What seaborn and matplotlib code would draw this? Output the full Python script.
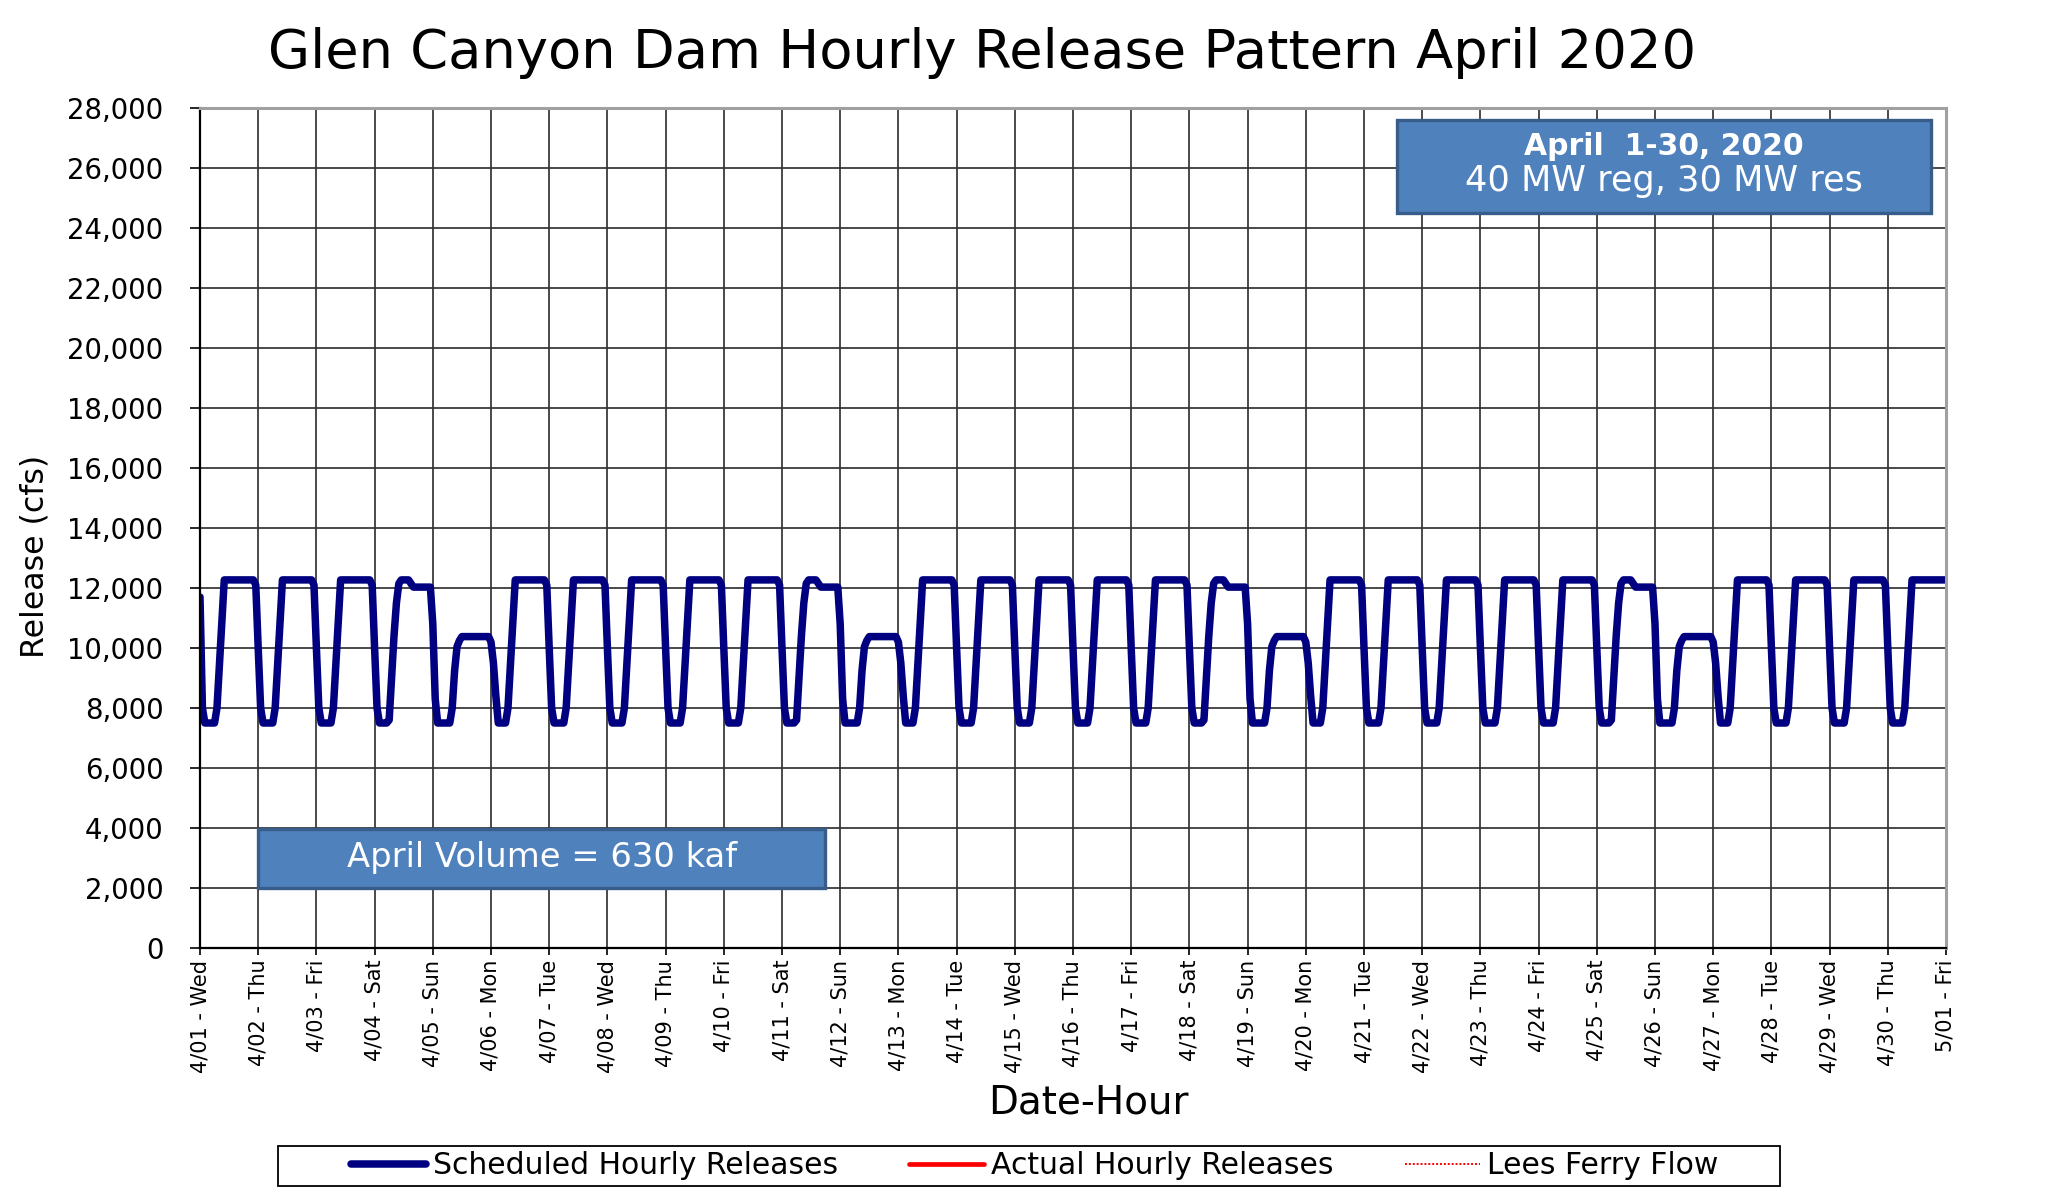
import numpy as np
import pandas as pd
import matplotlib
matplotlib.use("Agg")
import matplotlib.pyplot as plt
import seaborn as sns
from matplotlib.patches import Rectangle
from matplotlib.ticker import FuncFormatter

# ---------------- data ----------------
title = "Glen Canyon Dam Hourly Release Pattern April 2020"
x_label = "Date-Hour"
y_label = "Release (cfs)"

day_labels = ["4/01 - Wed", "4/02 - Thu", "4/03 - Fri", "4/04 - Sat", "4/05 - Sun",
              "4/06 - Mon", "4/07 - Tue", "4/08 - Wed", "4/09 - Thu", "4/10 - Fri",
              "4/11 - Sat", "4/12 - Sun", "4/13 - Mon", "4/14 - Tue", "4/15 - Wed",
              "4/16 - Thu", "4/17 - Fri", "4/18 - Sat", "4/19 - Sun", "4/20 - Mon",
              "4/21 - Tue", "4/22 - Wed", "4/23 - Thu", "4/24 - Fri", "4/25 - Sat",
              "4/26 - Sun", "4/27 - Mon", "4/28 - Tue", "4/29 - Wed", "4/30 - Thu",
              "5/01 - Fri"]

# day type of each of the 30 April days
day_types = ["wkd", "wkd", "wkd", "sat", "sun", "mon", "wkd",
             "wkd", "wkd", "wkd", "sat", "sun", "mon", "wkd",
             "wkd", "wkd", "wkd", "sat", "sun", "mon", "wkd",
             "wkd", "wkd", "wkd", "sat", "sun", "mon", "wkd",
             "wkd", "wkd"]

# scheduled hourly releases (cfs), hours 0..23
weekday_hours = [10000, 8000, 7500, 7500, 7500, 7500, 7500, 8000, 9450, 10850,
                 12270, 12270, 12270, 12270, 12270, 12270, 12270, 12270, 12270, 12270,
                 12270, 12270, 12270, 12100]
saturday_hours = [10000, 8000, 7500, 7500, 7500, 7500, 7600, 9000, 10400, 11500,
                  12150, 12270, 12270, 12270, 12270, 12150, 12030, 12030, 12030, 12030,
                  12030, 12030, 12030, 12030]
sunday_hours = [10800, 8300, 7500, 7500, 7500, 7500, 7500, 7500, 8000, 9250,
                10050, 10250, 10380, 10380, 10380, 10380, 10380, 10380, 10380, 10380,
                10380, 10380, 10380, 10380]
monday_hours = [10200, 9500, 8400, 7500, 7500, 7500, 7500, 8000, 9450, 10850,
                12270, 12270, 12270, 12270, 12270, 12270, 12270, 12270, 12270, 12270,
                12270, 12270, 12270, 12100]
first_hour_value = 11700          # 4/01 hour 0
last_day_hour23_value = 12270     # 4/30 hour 23
month_end_value = 12270           # 5/01 hour 0

actual_hourly_releases = []       # no actual data drawn in the reference
lees_ferry_flow = []

y_ticks = [0, 2000, 4000, 6000, 8000, 10000, 12000, 14000, 16000, 18000,
           20000, 22000, 24000, 26000, 28000]

box1_line1 = "April  1-30, 2020"
box1_line2 = "40 MW reg, 30 MW res"
box2_text = "April Volume = 630 kaf"

# ---------------- assemble series ----------------
patterns = {"wkd": weekday_hours, "sat": saturday_hours,
            "sun": sunday_hours, "mon": monday_hours}
values = []
for t in day_types:
    values.extend(patterns[t])
values[0] = first_hour_value
values[-1] = last_day_hour23_value
values.append(month_end_value)
df = pd.DataFrame({"day": np.arange(len(values)) / 24.0, "cfs": values})

# ---------------- figure ----------------
W, H = 2059, 1198
sns.set_style("white")
plt.rcParams["font.family"] = ["DejaVu Sans"]
plt.rcParams["text.color"] = "black"
plt.rcParams["axes.labelcolor"] = "black"
plt.rcParams["xtick.color"] = "black"
plt.rcParams["ytick.color"] = "black"

fig = plt.figure(figsize=(W / 100, H / 100), dpi=100)
fig.patch.set_facecolor("white")


def fx(x):
    return x / W


def fy(y):
    return 1 - y / H


ax = fig.add_axes([fx(200), fy(948), (1946 - 200) / W, (948 - 108) / H])
ax.set_facecolor("white")

sns.lineplot(data=df, x="day", y="cfs", ax=ax, color="#000080", linewidth=5.4,
             estimator=None, sort=False, label="Scheduled Hourly Releases",
             legend=False, solid_joinstyle="round")
ax.plot(range(len(actual_hourly_releases)), actual_hourly_releases, color="#FF0000",
        linewidth=3.4, label="Actual Hourly Releases")
ax.plot(range(len(lees_ferry_flow)), lees_ferry_flow, color="#FF0000",
        linewidth=1.4, linestyle=(0, (1, 1)), label="Lees Ferry Flow")

ax.set_xlim(0, 30)
ax.set_ylim(0, 28000)
ax.set_xticks(range(len(day_labels)))
ax.set_xticklabels(day_labels, rotation=90, fontsize=15)
ax.set_yticks(y_ticks)
ax.yaxis.set_major_formatter(FuncFormatter(lambda v, p: f"{int(v):,}"))
ax.tick_params(axis="y", labelsize=19.8, length=7.2, width=1.2, pad=19, colors="black",
               direction="out", left=True)
ax.tick_params(axis="x", length=5, width=1.2, pad=3.5, colors="black", direction="out",
               bottom=True)

ax.grid(True, color="#333333", linewidth=1.25)
ax.set_axisbelow(True)
for s in ["left", "bottom"]:
    ax.spines[s].set_color("black")
    ax.spines[s].set_linewidth(1.6)
for s in ["top", "right"]:
    ax.spines[s].set_color("#a0a0a0")
    ax.spines[s].set_linewidth(2.2)

ax.set_xlabel(x_label, fontsize=28, va="center")
ax.set_ylabel(y_label, fontsize=22.8, va="center")
ax.xaxis.set_label_coords((1088 - 200) / 1746, -(1103 - 948) / 840)
ax.yaxis.set_label_coords((35 - 200) / 1746, (948 - 556.7) / 840)

# title
fig.text(fx(982), fy(68.3), title, fontsize=39.2, ha="center", va="baseline")

# annotation box 1
fig.add_artist(Rectangle((fx(1397), fy(213)), (1931 - 1397) / W, (213 - 120) / H,
                         transform=fig.transFigure, facecolor="#4F81BD",
                         edgecolor="#385D8A", linewidth=2.4, zorder=5))
fig.text(fx(1664), fy(155), box1_line1, fontsize=21.5, fontweight="bold", color="white",
         ha="center", va="baseline", zorder=6)
fig.text(fx(1664), fy(191.5), box1_line2, fontsize=25.3, color="white",
         ha="center", va="baseline", zorder=6)

# annotation box 2
fig.add_artist(Rectangle((fx(258), fy(888)), (825 - 258) / W, (888 - 829) / H,
                         transform=fig.transFigure, facecolor="#4F81BD",
                         edgecolor="#385D8A", linewidth=2.4, zorder=5))
fig.text(fx(542), fy(866.5), box2_text, fontsize=24.3, color="white",
         ha="center", va="baseline", zorder=6)

# legend
handles, labels = ax.get_legend_handles_labels()
fs = 21.5
em = fs * 100 / 72
fig.legend(handles, labels, loc="center", bbox_to_anchor=(fx(1034.5), fy(1166)),
           ncol=3, frameon=False, fontsize=fs, handlelength=75 / em,
           handletextpad=7 / em, columnspacing=71 / em)
fig.add_artist(Rectangle((fx(278), fy(1186)), (1780 - 278) / W, (1186 - 1145.5) / H,
                         transform=fig.transFigure, facecolor="none",
                         edgecolor="black", linewidth=1.3))

fig.savefig("out.png", dpi=100)
